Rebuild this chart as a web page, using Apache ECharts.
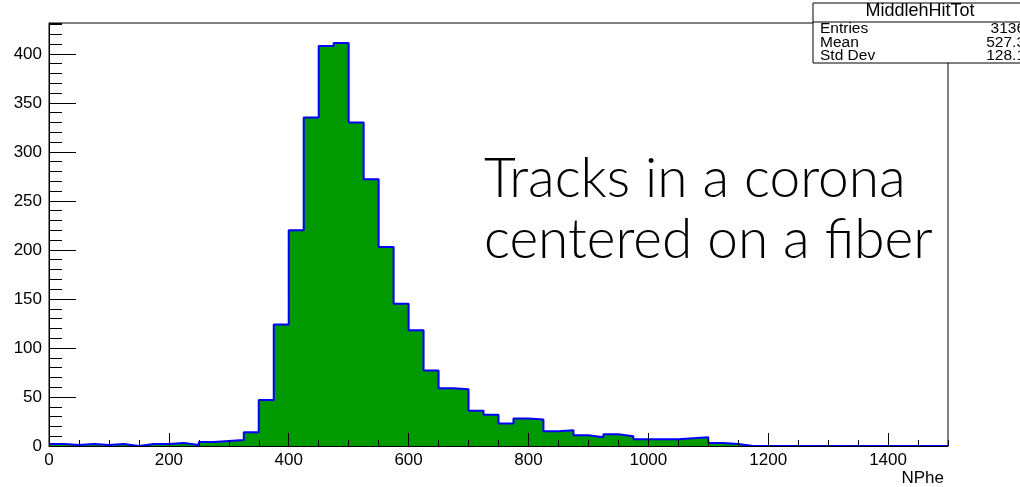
<!DOCTYPE html>
<html>
<head>
<meta charset="utf-8">
<script src="https://cdn.jsdelivr.net/npm/echarts@6/dist/echarts.min.js"></script>
<style>
  html, body { margin: 0; padding: 0; background: #fff; }
  #chart { width: 1020px; height: 487px; }
</style>
</head>
<body>
<div id="chart"></div>
<script>
// Histogram of NPhe: 60 bins of width 25 from 0 to 1500
const binLow = 0;
const binWidth = 25;
const counts = [
  2, 1, 2, 1, 2, 0, 2, 2, 3, 1, 4, 5, 6, 14, 47,
  124, 220, 335, 408, 411, 330, 272, 203, 145, 118, 77, 59, 58, 36, 32,
  23, 28, 27, 15, 16, 11, 9, 12, 10, 7, 7, 7, 8, 9, 3,
  2, 0, 0, 0, 0, 0, 0, 0, 0, 0, 0, 0, 0, 0, 0
];
const xRange = [0, 1500];
const yRange = [0, 431.5];

// Statistics box
const statTitle = 'MiddlehHitTot';
const statNames = ['Entries', 'Mean', 'Std Dev'];
const statValues = ['3136', '527.3', '128.1'];

// Annotation text
const noteLines = ['Tracks in a corona', 'centered on a fiber'];

// Step outline: one point per lower bin edge, plus the closing upper edge
const stepData = counts.map((c, i) => [binLow + i * binWidth, c]);
stepData.push([binLow + counts.length * binWidth, counts[counts.length - 1]]);

const FONT = 'Liberation Sans, Helvetica, Arial, sans-serif';
const labelFont = { color: '#000', fontFamily: FONT, fontSize: 17 };
const plainNumber = v => String(v);

const chart = echarts.init(document.getElementById('chart'), null, { renderer: 'canvas' });

const statX = 813, statTop = 3, statSep = 22, statBottom = 63;
const rowStep = 13.75;
const statGraphics = [
  { type: 'rect', shape: { x: statX, y: statTop, width: 240, height: statBottom - statTop },
    style: { fill: '#fff', stroke: '#000', lineWidth: 1 }, z: 10 },
  { type: 'line', shape: { x1: statX, y1: statSep, x2: 1020, y2: statSep },
    style: { stroke: '#000', lineWidth: 1 }, z: 11 },
  { type: 'text', x: 920, y: 11.5, z: 11,
    style: { text: statTitle, fill: '#000', font: '18px ' + FONT,
             textAlign: 'center', textVerticalAlign: 'middle' } }
];
statNames.forEach((n, i) => {
  const cy = statSep + 6.5 + rowStep * i;
  statGraphics.push({ type: 'text', x: 820, y: cy, z: 11,
    style: { text: n, fill: '#000', font: '15.5px ' + FONT,
             textAlign: 'left', textVerticalAlign: 'middle' } });
  statGraphics.push({ type: 'text', x: 1025, y: cy, z: 11,
    style: { text: statValues[i], fill: '#000', font: '15.5px ' + FONT,
             textAlign: 'right', textVerticalAlign: 'middle' } });
});

const noteGraphics = noteLines.map((t, i) => ({
  type: 'text', x: 484, y: 207 + i * 61, z: 12,
  style: { text: t, fill: '#000', font: '300 55px Lato, sans-serif',
           textAlign: 'left', textVerticalAlign: 'bottom' }
}));

chart.setOption({
  animation: false,
  backgroundColor: '#fff',
  grid: { left: 49, right: 72, top: 23, bottom: 39, show: true,
          borderColor: '#000', borderWidth: 1, backgroundColor: '#fff' },
  xAxis: [
    { type: 'value', min: xRange[0], max: xRange[1], interval: 200, position: 'bottom', z: 5,
      axisLine: { show: true, onZero: false, lineStyle: { color: '#000', width: 1 } },
      axisTick: { show: true, inside: true, length: 13, lineStyle: { color: '#000' } },
      axisLabel: Object.assign({ margin: 6, showMaxLabel: false, formatter: plainNumber }, labelFont),
      splitLine: { show: false },
      name: 'NPhe', nameLocation: 'end', nameGap: -4,
      nameTextStyle: Object.assign({ align: 'right', verticalAlign: 'top', padding: [24, 0, 0, 0] }, labelFont) },
    { type: 'value', min: xRange[0], max: xRange[1], interval: 50, position: 'bottom', z: 5,
      axisLine: { show: false },
      axisTick: { show: true, inside: true, length: 6, lineStyle: { color: '#000' } },
      axisLabel: { show: false }, splitLine: { show: false } }
  ],
  yAxis: [
    { type: 'value', min: yRange[0], max: yRange[1], interval: 50, position: 'left', z: 5,
      axisLine: { show: true, onZero: false, lineStyle: { color: '#000', width: 1 } },
      axisTick: { show: true, inside: true, length: 27, lineStyle: { color: '#000' } },
      axisLabel: Object.assign({ margin: 7, showMaxLabel: false, formatter: plainNumber }, labelFont),
      splitLine: { show: false } },
    { type: 'value', min: yRange[0], max: yRange[1], interval: 10, position: 'left', z: 5,
      axisLine: { show: false },
      axisTick: { show: true, inside: true, length: 13, lineStyle: { color: '#000' } },
      axisLabel: { show: false }, splitLine: { show: false } }
  ],
  series: [{
    type: 'line', step: 'end', xAxisIndex: 0, yAxisIndex: 0,
    data: stepData, symbol: 'none', z: 2,
    lineStyle: { color: '#0000ff', width: 2 },
    areaStyle: { color: '#009900', opacity: 1, origin: 'start' }
  }],
  graphic: statGraphics.concat(noteGraphics)
});
</script>
</body>
</html>
